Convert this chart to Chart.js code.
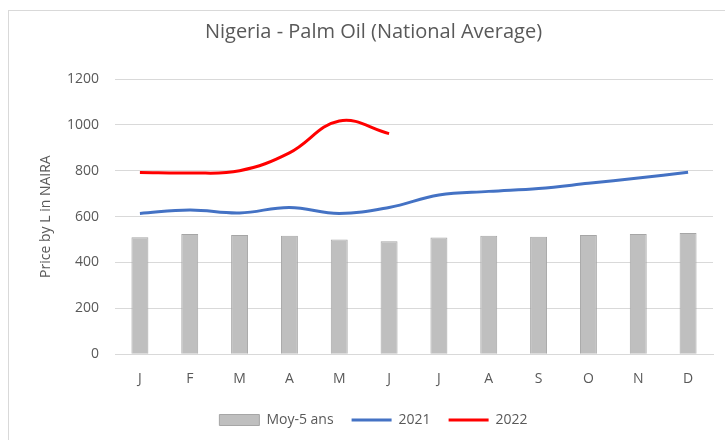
<!DOCTYPE html>
<html>
<head>
<meta charset="utf-8">
<script src="https://cdn.jsdelivr.net/npm/chart.js@4"></script>
<style>
  body { margin: 0; background: #fff; }
  #wrap { width: 725px; height: 440px; }
</style>
</head>
<body>
<div id="wrap"><canvas id="palmChart" width="725" height="440"></canvas></div>
<script>
const months = ['J', 'F', 'M', 'A', 'M', 'J', 'J', 'A', 'S', 'O', 'N', 'D'];
const avg5 = [510, 524, 520, 516, 500, 493, 509, 516, 512, 520, 524, 529];
const y2021 = [614, 629, 616, 640, 614, 640, 694, 710, 723, 745, 768, 793];
const y2022 = [792, 790, 800, 878, 1017, 962];

const font = "'Open Sans', sans-serif";
const grey = '#595959';

// outer frame like the excel chart box
const framePlugin = {
    id: 'frame',
    beforeDraw(chart) {
        const c = chart.ctx;
        c.save();
        c.fillStyle = '#fff';
        c.fillRect(0, 0, chart.width, chart.height);
        c.strokeStyle = '#d9d9d9';
        c.lineWidth = 1;
        c.strokeRect(8.5, 10.5, 740, 440);
        c.restore();
    }
};

const ctx = document.getElementById('palmChart').getContext('2d');
new Chart(ctx, {
    data: {
        labels: months,
        datasets: [
            {
                type: 'line', label: '2021', data: y2021,
                borderColor: '#4472c4', backgroundColor: '#4472c4',
                borderWidth: 3, pointRadius: 0, tension: 0.4, pointStyle: 'line', order: 1
            },
            {
                type: 'line', label: '2022', data: y2022,
                borderColor: '#ff0000', backgroundColor: '#ff0000',
                borderWidth: 3, pointRadius: 0, tension: 0.4, pointStyle: 'line', order: 0
            },
            {
                type: 'bar', label: 'Moy-5 ans', data: avg5,
                backgroundColor: '#bfbfbf', borderColor: '#a6a6a6', borderWidth: 1,
                barPercentage: 0.34, categoryPercentage: 1, pointStyle: 'rect', order: 2
            }
        ]
    },
    options: {
        responsive: false,
        animation: false,
        layout: { padding: { left: 34, right: 12, top: 14, bottom: 3 } },
        plugins: {
            title: {
                display: true, text: 'Nigeria - Palm Oil (National Average)',
                color: grey, font: { family: font, size: 20, weight: 'normal' },
                padding: { top: 6, bottom: 35 }
            },
            legend: {
                position: 'bottom',
                labels: {
                    color: grey, font: { family: font, size: 14 },
                    usePointStyle: true, pointStyleWidth: 40, boxHeight: 11,
                    padding: 18,
                    sort: (a, b) => (a.text === 'Moy-5 ans' ? -1 : b.text === 'Moy-5 ans' ? 1 : a.text.localeCompare(b.text))
                }
            },
            tooltip: { enabled: false }
        },
        scales: {
            x: {
                grid: { display: false },
                border: { color: '#d9d9d9' },
                ticks: { color: grey, font: { family: font, size: 14 }, padding: 8 }
            },
            y: {
                min: 0, max: 1200,
                ticks: {
                    stepSize: 200, color: grey, font: { family: font, size: 14 }, padding: 16,
                    callback: v => String(v)
                },
                grid: { color: '#d9d9d9', drawTicks: false },
                border: { display: false },
                title: {
                    display: true, text: 'Price by L in NAIRA',
                    color: grey, font: { family: font, size: 14 }
                },
                afterFit: s => { s.width = 81; }
            }
        }
    },
    plugins: [framePlugin]
});
</script>
</body>
</html>
